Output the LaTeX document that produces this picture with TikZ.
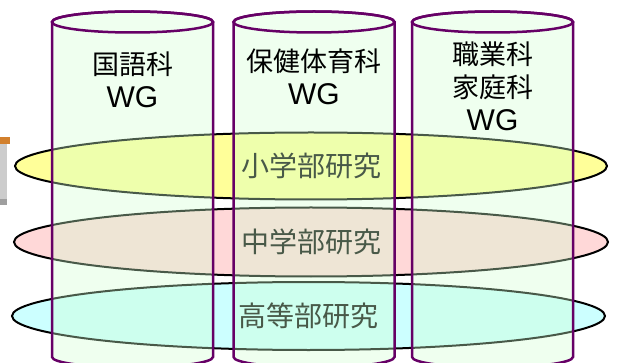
\documentclass[tikz,border=0pt]{standalone}
\usepackage{fontspec}
\newfontfamily\jpfont{Noto Sans CJK JP}
\newfontfamily\wgfont{Liberation Sans}
\usetikzlibrary{shapes.geometric}

\definecolor{wgline}{HTML}{660066}
\definecolor{wgfill}{HTML}{D0FFD0}
\definecolor{shofill}{HTML}{FFFF99}
\definecolor{chufill}{HTML}{FFD8D8}
\definecolor{kofill}{HTML}{CCFFFF}

\newcommand{\wgname}{{\wgfont\fontsize{30}{33}\selectfont WG}}

\tikzset{
  bu/.style={ellipse, draw=black, line width=2pt, inner sep=0pt,
    font=\jpfont\fontsize{28}{28}\selectfont},
  wg/.style={draw=wgline, line width=2.5pt, fill=wgfill, fill opacity=0.35},
  wglabel/.style={align=center, font=\jpfont\fontsize{27}{33}\selectfont},
}

\begin{document}
\begin{tikzpicture}[x=1pt, y=1pt]
  \clip (0,0) rectangle (618,-363);
  \useasboundingbox (0,0) rectangle (618,-363);

  % cut-off picture at the left edge
  \fill[brown!70!orange] (0,-137) rectangle (10,-144);
  \fill[gray!40] (0,-144) rectangle (7,-205);
  \fill[gray!75] (0,-199) rectangle (7,-205);

  % the three school sections
  \node[bu, fill=shofill, minimum width=592pt, minimum height=67pt] (sho) at (311,-166) {小学部研究};
  \node[bu, fill=chufill, minimum width=594pt, minimum height=69pt] (chu) at (311,-242) {中学部研究};
  \node[bu, fill=kofill, minimum width=593pt, minimum height=68pt] (ko) at (308.5,-316) {高等部研究};

  % the three working groups
  \foreach \cx in {132.5, 314, 492.5} {
    \path[wg] (\cx-80.5,-22) -- (\cx-80.5,-357) arc (180:360:80.5 and 10.5)
      -- (\cx+80.5,-22) arc (0:180:80.5 and 10.5) -- cycle;
    \draw[wgline, line width=2.5pt] (\cx,-22) ellipse (80.5 and 10.5);
  }

  \node[wglabel] (kokugo) at (132.5,-80) {国語科\\\wgname};
  \node[wglabel] (hoken) at (314,-77) {保健体育科\\\wgname};
  \node[wglabel] (shokugyo) at (492.5,-86) {職業科\\家庭科\\\wgname};

\end{tikzpicture}
\end{document}
